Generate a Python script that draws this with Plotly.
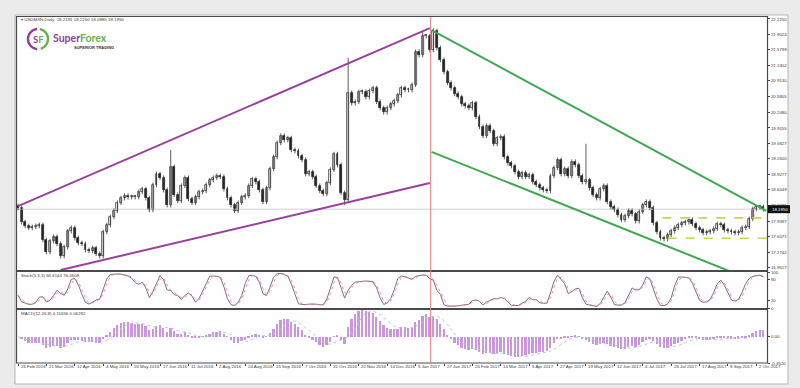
import numpy as np
import pandas as pd
import plotly.graph_objects as go

# ---------------- data ----------------
# closes sampled every 2 trading days, starting 26 Feb 2016
closes = [
    18.22, 17.92, 17.84, 17.80, 17.82, 17.84, 17.86, 17.54, 17.29, 17.52,
    17.61, 17.46, 17.20, 17.39, 17.73, 17.80, 17.58, 17.48, 17.46, 17.33,
    17.31, 17.37, 17.25, 17.20, 17.71, 17.86, 18.03, 18.16, 18.33, 18.43,
    18.48, 18.45, 18.45, 18.45, 18.56, 18.62, 18.43, 18.18, 18.71, 18.94,
    18.86, 18.60, 18.28, 19.09, 18.50, 18.37, 18.69, 18.86, 18.41, 18.33,
    18.45, 18.56, 18.58, 18.71, 18.81, 18.86, 18.90, 18.88, 18.62, 18.43,
    18.28, 18.16, 18.33, 18.45, 18.48, 18.69, 18.83, 18.77, 18.60, 18.35,
    18.64, 19.05, 19.30, 19.60, 19.75, 19.66, 19.70, 19.45, 19.43, 19.32,
    19.24, 18.94, 18.98, 18.88, 18.69, 18.58, 18.52, 18.75, 19.03, 19.36,
    19.13, 18.54, 18.39, 20.66, 20.44, 20.47, 20.68, 20.68, 20.57, 20.70,
    20.76, 20.47, 20.34, 20.25, 20.34, 20.42, 20.49, 20.61, 20.76, 20.72,
    20.72, 20.83, 21.53, 21.46, 21.86, 21.86, 21.57, 21.97, 21.61, 21.36,
    21.10, 20.87, 20.76, 20.64, 20.57, 20.42, 20.38, 20.34, 20.44, 20.15,
    19.94, 19.75, 19.96, 19.85, 19.58, 19.70, 19.73, 19.30, 19.17, 19.11,
    18.98, 18.88, 18.96, 18.88, 18.92, 18.77, 18.71, 18.64, 18.60, 18.58,
    18.90, 19.07, 19.24, 18.94, 19.05, 18.90, 19.20, 19.13, 18.90, 18.77,
    18.81, 18.64, 18.50, 18.43, 18.62, 18.69, 18.35, 18.24, 18.18, 18.07,
    17.97, 18.05, 18.16, 18.09, 17.94, 18.14, 18.28, 18.35, 18.22, 17.90,
    17.71, 17.58, 17.56, 17.65, 17.73, 17.80, 17.86, 17.90, 17.92, 17.97,
    17.88, 17.80, 17.75, 17.69, 17.71, 17.73, 17.78, 17.88, 17.86, 17.75,
    17.73, 17.71, 17.69, 17.71, 17.80, 17.82, 17.99, 18.20, 18.24, 18.24,
    18.195,
]
first_open = 18.26
typical_wick = 0.05          # estimated intrabar wick length
spike_high = {43: 19.45, 93: 21.40, 114: 21.95, 117: 22.03, 160: 19.58}
spike_low = {12: 17.16, 23: 17.16, 61: 18.11, 92: 18.28, 182: 17.52}

date_labels = ["26 Feb 2016", "21 Mar 2016", "12 Apr 2016", "4 May 2016", "26 May 2016",
               "17 Jun 2016", "11 Jul 2016", "2 Aug 2016", "24 Aug 2016", "15 Sep 2016",
               "7 Oct 2016", "31 Oct 2016", "22 Nov 2016", "14 Dec 2016", "5 Jan 2017",
               "27 Jan 2017", "20 Feb 2017", "14 Mar 2017", "5 Apr 2017", "27 Apr 2017",
               "19 May 2017", "12 Jun 2017", "4 Jul 2017", "26 Jul 2017", "17 Aug 2017",
               "8 Sep 2017", "2 Oct 2017"]
date_label_bar = [16 * i for i in range(len(date_labels))]

price_ticks = ["22.2250", "21.9024", "21.5799", "21.2402", "20.9130", "20.5805", "20.2480",
               "19.9155", "19.5827", "19.2600", "18.9277", "18.6049", "18.2731", "17.9397",
               "17.6071", "17.2742", "16.9517"]
stoch_ticks = ["100", "80", "20", "0"]
macd_ticks = ["0.46621", "0.00", "-0.4520"]

# trendlines (bar index, price)
purple_upper = ([0, 232], [18.26, 22.03])
purple_lower = ([24, 232], [16.906, 18.75])
green_upper = ([233, 421.5], [21.99, 18.16])
green_lower = ([233, 405], [19.41, 16.82])
level_upper = ([363, 422], [18.01, 18.01])
level_lower = ([366, 422], [17.58, 17.58])
event_bar = 232.5
last_price = 18.195

title_text = "\u25be USDMXN,Daily  18.2191 18.2250 18.0885 18.1950"
stoch_text = "Stoch(5,3,3) 66.6144 76.4608"
macd_text = "MACD(12,26,9) 0.11656 0.06282"

# ---------------- derived series ----------------
bar_day = [2 * i for i in range(len(closes))]
c = np.array(closes, dtype=float)
o = np.r_[first_open, c[:-1]]
hi = np.maximum(o, c) + typical_wick
lo = np.minimum(o, c) - typical_wick
for k, v in spike_high.items():
    hi[k] = max(hi[k], v)
for k, v in spike_low.items():
    lo[k] = min(lo[k], v)

# stochastic (on 2-day bars)
s_hi = pd.Series(hi); s_lo = pd.Series(lo); s_c = pd.Series(c)
ll = s_lo.rolling(4, min_periods=1).min()
hh = s_hi.rolling(4, min_periods=1).max()
num = (s_c - ll).rolling(3, min_periods=1).sum()
den = (hh - ll).rolling(3, min_periods=1).sum().replace(0, np.nan)
stoch_k = (100 * num / den).fillna(50)
stoch_d = stoch_k.rolling(2, min_periods=1).mean()

# MACD (on 2-day bars)
ema_f = s_c.ewm(span=6, adjust=False).mean()
ema_s = s_c.ewm(span=13, adjust=False).mean()
macd = ema_f - ema_s
macd_sig = macd.rolling(5, min_periods=1).mean()

# ---------------- geometry helpers ----------------
W, H = 800, 388
ML, MR, MT, MB = 17, 33, 17, 25
PW = W - ML - MR
PH = H - MT - MB


def px(x):
    return (x - ML) / PW


def py(y):
    return (H - MB - y) / PH


FONT = "Liberation Sans"
TXT = "#3a3a3a"
INK = "#1e1e1e"

fig = go.Figure()

# current price line
fig.add_trace(go.Scatter(x=[-1, 423], y=[last_price, last_price], mode="lines",
                         line=dict(color="#cfcfcf", width=1), yaxis="y",
                         hoverinfo="skip", showlegend=False))

# candle wicks
wx, wy = [], []
for b, h_, l_ in zip(bar_day, hi, lo):
    wx += [b, b, None]
    wy += [l_, h_, None]
fig.add_trace(go.Scatter(x=wx, y=wy, mode="lines", yaxis="y",
                         line=dict(color="#333333", width=0.8),
                         hoverinfo="skip", showlegend=False))
# candle bodies
body_base = np.minimum(o, c)
body_h = np.maximum(np.abs(c - o), 0.02)
bull = c >= o
fig.add_trace(go.Bar(x=bar_day, base=body_base, y=body_h, yaxis="y", width=1.1,
                     marker=dict(color=["#ffffff" if u else INK for u in bull],
                                 line=dict(color=INK, width=0.7)),
                     hoverinfo="skip", showlegend=False))

for (xs, ys), col, dash, w in [
        (purple_upper, "#9b3f9e", "solid", 2), (purple_lower, "#9b3f9e", "solid", 2),
        (green_upper, "#3da94f", "solid", 2), (green_lower, "#3da94f", "solid", 2),
        (level_upper, "#c9d64a", "dash", 1.6), (level_lower, "#c9d64a", "dash", 1.6)]:
    fig.add_trace(go.Scatter(x=xs, y=ys, mode="lines", yaxis="y",
                             line=dict(color=col, width=w, dash=dash),
                             hoverinfo="skip", showlegend=False))

# stochastic
fig.add_trace(go.Scatter(x=bar_day, y=stoch_k, mode="lines", yaxis="y2",
                         line=dict(color="#86698c", width=1), hoverinfo="skip", showlegend=False))
fig.add_trace(go.Scatter(x=bar_day, y=stoch_d, mode="lines", yaxis="y2",
                         line=dict(color="#e07a8a", width=0.8, dash="dot"), hoverinfo="skip",
                         showlegend=False))

# MACD
fig.add_trace(go.Bar(x=bar_day, y=macd, yaxis="y3", width=1.0,
                     marker=dict(color="#cc96de", line=dict(width=0)),
                     hoverinfo="skip", showlegend=False))
fig.add_trace(go.Scatter(x=bar_day, y=macd_sig, mode="lines", yaxis="y3",
                         line=dict(color="#a6d2d2", width=1, dash="dot"), hoverinfo="skip",
                         showlegend=False))

axis_common = dict(showgrid=False, zeroline=False, showline=False, ticks="outside",
                   ticklen=2, tickcolor="#444", tickwidth=1,
                   tickfont=dict(size=4.4, family=FONT, color=TXT), side="right",
                   anchor="x", fixedrange=True)

fig.update_layout(
    width=W, height=H,
    margin=dict(l=ML, r=MR, t=MT, b=MB, pad=0),
    paper_bgcolor="#ebebeb", plot_bgcolor="#ffffff",
    showlegend=False, barmode="overlay", bargap=0,
    xaxis=dict(domain=[0, 1], range=[-0.6, 422], anchor="y3", showgrid=False,
               zeroline=False, showline=False, ticks="outside", ticklen=2,
               tickcolor="#444", tickvals=date_label_bar, showticklabels=False,
               fixedrange=True),
    yaxis=dict(domain=[py(270), 1], range=[16.906, 22.267],
               tickvals=[float(t) for t in price_ticks], ticktext=price_ticks, **axis_common),
    yaxis2=dict(domain=[py(308), py(272)], range=[0, 100],
                tickvals=[float(t) for t in stoch_ticks], ticktext=stoch_ticks, **axis_common),
    yaxis3=dict(domain=[0, py(310)], range=[-0.452, 0.466],
                tickvals=[float(t) for t in macd_ticks], ticktext=macd_ticks, **axis_common),
)

shapes = []
# window
shapes.append(dict(type="rect", xref="paper", yref="paper", x0=px(15), x1=px(788),
                   y0=py(384), y1=py(15), fillcolor="#ffffff",
                   line=dict(color="#b5b5b5", width=1), layer="below"))
# panel frames
for top, bot in [(16.5, 270.5), (271.5, 308.5), (309.5, 363)]:
    shapes.append(dict(type="rect", xref="paper", yref="paper", x0=px(16.5), x1=px(767.5),
                       y0=py(bot), y1=py(top), line=dict(color="#4a4a4a", width=1.2),
                       fillcolor="rgba(0,0,0,0)", layer="above"))
# event line
shapes.append(dict(type="line", xref="x", yref="paper", x0=event_bar, x1=event_bar,
                   y0=0, y1=1, line=dict(color="#e07a7a", width=1), layer="above"))
# last price box
shapes.append(dict(type="rect", xref="paper", yref="y", x0=px(768), x1=px(790),
                   y0=last_price - 0.085, y1=last_price + 0.085, fillcolor="#111111",
                   line=dict(width=0), layer="above"))


# logo ring arcs (pixel-sized shapes)
def arc_path(r, a0, a1, n=24):
    ang = np.linspace(np.radians(a0), np.radians(a1), n)
    pts = [f"{r*np.cos(a):.2f},{r*np.sin(a):.2f}" for a in ang]
    return "M" + " L".join(pts)


for a0, a1, col in [(95, 265, "#8e3f98"), (-75, 80, "#6ab04c")]:
    shapes.append(dict(type="path", xref="paper", yref="paper", xsizemode="pixel",
                       ysizemode="pixel", xanchor=px(38), yanchor=py(39),
                       path=arc_path(10, a0, a1), line=dict(color=col, width=2.4),
                       layer="above"))
fig.update_layout(shapes=shapes)

ann = []
ann.append(dict(text=title_text, xref="paper", yref="paper", x=px(19), y=py(20),
                xanchor="left", yanchor="middle", showarrow=False,
                font=dict(size=4.4, family=FONT, color=TXT)))
ann.append(dict(text=stoch_text, xref="paper", yref="paper", x=px(19), y=py(275),
                xanchor="left", yanchor="middle", showarrow=False,
                font=dict(size=4.4, family=FONT, color=TXT)))
ann.append(dict(text=macd_text, xref="paper", yref="paper", x=px(19), y=py(313),
                xanchor="left", yanchor="middle", showarrow=False,
                font=dict(size=4.4, family=FONT, color=TXT)))
for b, lab in zip(date_label_bar, date_labels):
    ann.append(dict(text=lab, xref="x", yref="paper", x=b, y=py(366), xanchor="left",
                    yanchor="middle", xshift=0.5, showarrow=False,
                    font=dict(size=4.4, family=FONT, color=TXT)))
ann.append(dict(text=f"{last_price:.4f}", xref="paper", yref="y", x=px(769.5), y=last_price,
                xanchor="left", yanchor="middle", showarrow=False,
                font=dict(size=4.4, family=FONT, color="#ffffff")))
# logo text
ann.append(dict(text="<b><span style='color:#8e3f98'>Super</span>"
                     "<span style='color:#6ab04c'>Forex</span></b>",
                xref="paper", yref="paper", x=px(51), y=py(38), xanchor="left",
                yanchor="middle", showarrow=False, font=dict(size=10.5, family="Lato")))
ann.append(dict(text="<b>SUPERIOR TRADING</b>", xref="paper", yref="paper", x=px(72),
                y=py(47), xanchor="left", yanchor="middle", showarrow=False,
                font=dict(size=4.0, family=FONT, color="#333333")))
ann.append(dict(text="<b><span style='color:#8e3f98'>S</span>"
                     "<span style='color:#6ab04c'>F</span></b>",
                xref="paper", yref="paper", x=px(38), y=py(39.5), xanchor="center",
                yanchor="middle", showarrow=False, font=dict(size=9.5, family="Lato")))
fig.update_layout(annotations=ann)

fig.write_html("out.html")
